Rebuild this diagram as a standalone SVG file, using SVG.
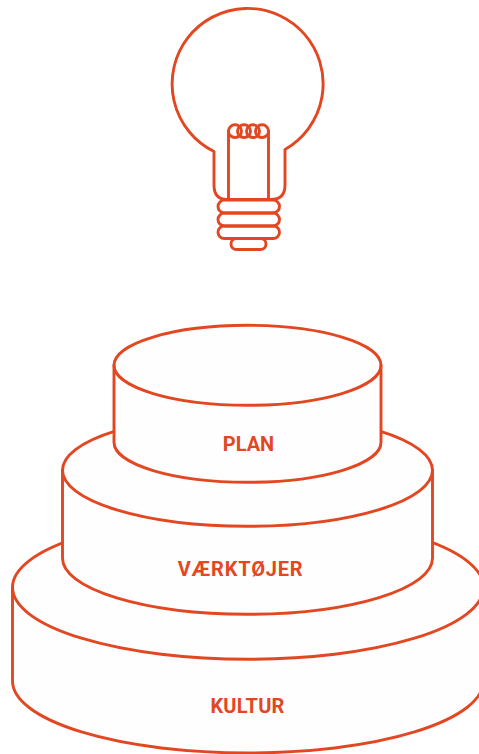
<svg xmlns="http://www.w3.org/2000/svg" width="479" height="754" viewBox="0 0 479 754">
<style>
.l{fill:none;stroke:#e34722;stroke-width:2.9;stroke-linejoin:round;stroke-linecap:round}
.f{fill:#fefefe;stroke:#e34722;stroke-width:2.9;stroke-linejoin:round}
.t{font-family:"Roboto","Liberation Sans",sans-serif;font-weight:700;font-size:20px;fill:#e34722;text-anchor:middle}
</style>
<rect width="479" height="754" fill="#ffffff"/>
<g id="bulb">
<path class="l" d="M214 151.500A75.500 75.500 0 1 1 285 149.500V185Q285 199.500 271 199.500H227Q214 199.500 214 185Z"/>
<path class="l" d="M228.500 199.500V131M268.500 199.500V131"/>
<rect class="l" x="228.500" y="124.800" width="13" height="12.700" rx="6.350"/>
<rect class="l" x="237.500" y="124.800" width="13" height="12.700" rx="6.350"/>
<rect class="l" x="246.500" y="124.800" width="13" height="12.700" rx="6.350"/>
<rect class="l" x="255.500" y="124.800" width="13" height="12.700" rx="6.350"/>
<rect class="l" x="218" y="200" width="61.500" height="13" rx="6.500"/>
<rect class="l" x="218" y="213" width="61.500" height="13" rx="6.500"/>
<rect class="l" x="218" y="226" width="61.500" height="12.500" rx="6.250"/>
<rect class="l" x="231" y="238.500" width="35" height="11" rx="5.500"/>
</g>
<g id="kultur">
<path class="f" d="M12.500 587.300V681A235.500 72 0 0 0 483.500 681V587.300A235.500 72 0 0 0 12.500 587.300Z"/>
<path class="l" d="M12.500 587.300A235.500 72 0 0 0 483.500 587.300"/>
<text class="t" x="247.500" y="713" letter-spacing="0.2">KULTUR</text>
</g>
<g id="vaerktojer">
<path class="f" d="M62.500 470.300V558.300A185 56 0 0 0 432.500 558.300V470.300A185 56 0 0 0 62.500 470.300Z"/>
<path class="l" d="M62.500 470.300A185 56 0 0 0 432.500 470.300"/>
<text class="t" x="240.500" y="576" letter-spacing="0.8">VÆRKTØJER</text>
</g>
<g id="plan">
<path class="f" d="M114 365.300V442.300A133.500 40 0 0 0 381 442.300V365.300A133.500 40 0 0 0 114 365.300Z"/>
<path class="l" d="M114 365.300A133.500 40 0 0 0 381 365.300"/>
<text class="t" x="248.500" y="451">PLAN</text>
</g>
<g id="connectors"></g>
</svg>
